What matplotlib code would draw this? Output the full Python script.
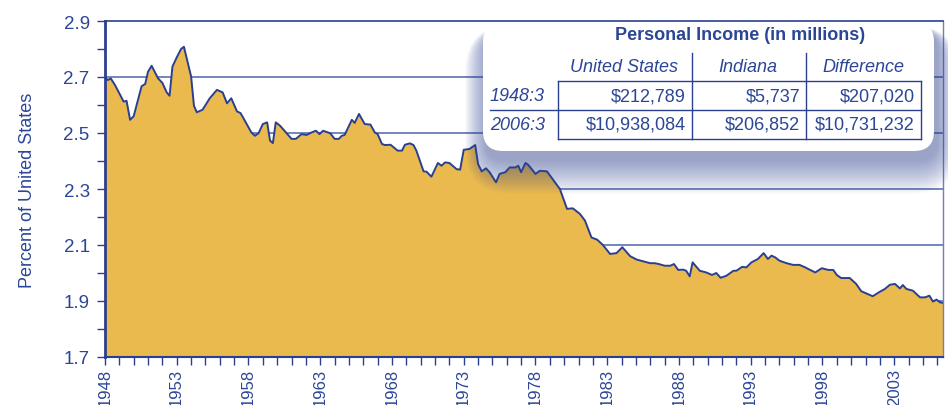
from matplotlib import pyplot as plt
from matplotlib.patches import FancyBboxPatch
from matplotlib.ticker import MultipleLocator
import numpy as np

plt.rcParams['font.family'] = ['Liberation Sans', 'DejaVu Sans']

# Indiana personal income as percent of United States
years = [1948.0, 1948.2, 1948.4, 1948.7, 1949.3, 1949.5, 1949.75, 1950.0,
         1950.55, 1950.8, 1951.0, 1951.25, 1951.7, 1952.0, 1952.3, 1952.5,
         1952.7, 1953.0, 1953.3, 1953.5, 1954.0, 1954.2, 1954.4, 1954.8,
         1955.3, 1955.8, 1956.2, 1956.5, 1956.8, 1957.2, 1957.45, 1958.2,
         1958.45, 1958.7, 1959.0, 1959.3, 1959.5, 1959.7, 1959.9, 1960.2,
         1961.0, 1961.3, 1961.7, 1962.05, 1962.4, 1962.7, 1962.95, 1963.2,
         1963.7, 1964.0, 1964.3, 1964.5, 1964.7, 1965.2, 1965.4, 1965.7,
         1966.1, 1966.5, 1966.8, 1967.0, 1967.3, 1967.5, 1967.9, 1968.4,
         1968.7, 1968.9, 1969.25, 1969.5, 1969.7, 1970.2, 1970.4, 1970.75,
         1971.2, 1971.45, 1971.7, 1972.0, 1972.5, 1972.75, 1973.0, 1973.4,
         1973.8, 1974.0, 1974.25, 1974.55, 1974.8, 1975.25, 1975.5, 1975.9,
         1976.2, 1976.6, 1976.8, 1977.0, 1977.3, 1977.5, 1978.0, 1978.3,
         1978.8, 1979.1, 1979.7, 1980.2, 1980.6, 1981.1, 1981.45, 1981.9,
         1982.3, 1982.7, 1983.2, 1983.65, 1984.05, 1984.6, 1985.05, 1985.5,
         1986.0, 1986.3, 1986.6, 1987.0, 1987.4, 1987.65, 1987.95, 1988.3,
         1988.5, 1988.75, 1988.95, 1989.45, 1989.9, 1990.3, 1990.6, 1990.9,
         1991.3, 1991.8, 1992.0, 1992.4, 1992.7, 1993.05, 1993.5, 1993.9,
         1994.2, 1994.45, 1994.7, 1995.0, 1995.5, 1995.95, 1996.4, 1996.8,
         1997.1, 1997.5, 1997.95, 1998.4, 1998.75, 1999.0, 1999.3, 1999.9,
         2000.35, 2000.7, 2001.05, 2001.5, 2002.0, 2002.35, 2002.7, 2003.05,
         2003.4, 2003.6, 2003.85, 2004.3, 2004.8, 2005.15, 2005.45, 2005.7,
         2005.95, 2006.2, 2006.4]
percent = [2.700, 2.689, 2.695, 2.671, 2.612, 2.615, 2.547, 2.560,
           2.667, 2.675, 2.719, 2.740, 2.695, 2.679, 2.645, 2.633,
           2.737, 2.770, 2.800, 2.808, 2.702, 2.597, 2.574, 2.583,
           2.624, 2.654, 2.645, 2.606, 2.624, 2.577, 2.571, 2.502,
           2.490, 2.499, 2.532, 2.538, 2.473, 2.464, 2.538, 2.526,
           2.479, 2.479, 2.496, 2.493, 2.502, 2.508, 2.496, 2.508,
           2.499, 2.479, 2.479, 2.490, 2.493, 2.547, 2.536, 2.568,
           2.532, 2.530, 2.502, 2.496, 2.461, 2.457, 2.458, 2.437,
           2.437, 2.458, 2.463, 2.457, 2.437, 2.363, 2.362, 2.344,
           2.393, 2.383, 2.395, 2.393, 2.371, 2.369, 2.440, 2.443,
           2.457, 2.389, 2.363, 2.374, 2.360, 2.324, 2.354, 2.360,
           2.377, 2.377, 2.383, 2.360, 2.393, 2.386, 2.354, 2.365,
           2.363, 2.342, 2.300, 2.229, 2.231, 2.211, 2.187, 2.127,
           2.119, 2.100, 2.068, 2.071, 2.092, 2.060, 2.048, 2.042,
           2.035, 2.035, 2.032, 2.026, 2.026, 2.032, 2.011, 2.012,
           2.008, 1.988, 2.038, 2.008, 2.002, 1.993, 2.000, 1.983,
           1.990, 2.008, 2.008, 2.022, 2.020, 2.038, 2.050, 2.071,
           2.050, 2.062, 2.056, 2.044, 2.035, 2.029, 2.029, 2.020,
           2.012, 2.002, 2.017, 2.011, 2.011, 1.993, 1.982, 1.982,
           1.961, 1.935, 1.927, 1.917, 1.933, 1.943, 1.958, 1.961,
           1.945, 1.957, 1.943, 1.937, 1.913, 1.913, 1.919, 1.898,
           1.905, 1.895, 1.893]

year_ticks = list(range(1948, 2006, 5))
pct_ticks = [1.7, 1.9, 2.1, 2.3, 2.5, 2.7, 2.9]

table_title = 'Personal Income (in millions)'
table_cols = ['United States', 'Indiana', 'Difference']
table_rows = ['1948:3', '2006:3']
table_values = [['$212,789', '$5,737', '$207,020'],
                ['$10,938,084', '$206,852', '$10,731,232']]

navy = '#2a3f8f'
text_c = '#2c4696'
fill_c = '#ebba4e'
grid_c = '#4d65aa'

fig = plt.figure(figsize=(9.48, 4.06), dpi=100)
ax = fig.add_axes([105 / 948, 1 - 358 / 406, 838 / 948, 336 / 406])

ax.fill_between(years, percent, 1.7, color=fill_c, lw=0, zorder=2)
ax.plot(years, percent, color=navy, lw=1.4, zorder=3)

ax.set_xlim(1948, 2006.4)
ax.set_ylim(1.7, 2.9)
ax.set_xticks(year_ticks)
ax.set_xticklabels([str(y) for y in year_ticks], rotation=90,
                   fontsize=12, color=text_c)
ax.xaxis.set_minor_locator(MultipleLocator(1))
ax.set_yticks(pct_ticks)
ax.set_yticklabels(['%.1f' % v for v in pct_ticks], fontsize=13.5,
                   color=text_c)
ax.yaxis.set_minor_locator(MultipleLocator(0.1))
ax.tick_params(axis='both', which='both', direction='out', length=6,
               width=1, color=navy, pad=2)
ax.tick_params(axis='y', which='major', pad=5)

for v in pct_ticks[1:-1]:
    ax.axhline(v, color=grid_c, lw=1.1, zorder=1)

for side in ['top', 'left', 'bottom']:
    ax.spines[side].set_color(navy)
ax.spines['left'].set_linewidth(2)
ax.spines['bottom'].set_linewidth(1.5)
ax.spines['top'].set_linewidth(1.2)
ax.spines['right'].set_color('#6d80bb')
ax.spines['right'].set_linewidth(1)
for s in ax.spines.values():
    s.set_zorder(4)

ax.set_ylabel('Percent of United States', fontsize=13, color=text_c,
              labelpad=20)

# overlay in pixel units for the table panel
ov = fig.add_axes([0, 0, 1, 1], facecolor='none')
ov.set_xlim(0, 948)
ov.set_ylim(406, 0)
ov.set_axis_off()

bx0, by0, bx1, by1 = 483, 23, 934, 152
for i in range(26, 0, -1):
    sh = FancyBboxPatch((bx0 - i * 0.8 + 3, by0 + 9 - i * 0.2),
                        bx1 - bx0 + i * 1.6, by1 - by0 + i * 1.5,
                        boxstyle='round,pad=0,rounding_size=%d' % (20 + i),
                        fc='#3a4f9e', ec='none', alpha=0.022, zorder=5)
    ov.add_patch(sh)
box = FancyBboxPatch((bx0, by0), bx1 - bx0, by1 - by0,
                     boxstyle='round,pad=0,rounding_size=20',
                     fc='white', ec='none', zorder=6)
ov.add_patch(box)

ov.text(740, 35, table_title, ha='center', va='center', fontsize=13,
        fontweight='bold', color=text_c, zorder=7)

col_x = [558, 692, 806, 921]
col_centers = [624, 748, 863]
row_y = [82, 111, 140]
for c, name in zip(col_centers, table_cols):
    ov.text(c, 67, name, ha='center', va='center', fontsize=13,
            style='italic', color=text_c, zorder=7)
for r, name in enumerate(table_rows):
    yc = (row_y[r] + row_y[r + 1]) / 2
    ov.text(490, yc, name, ha='left', va='center', fontsize=13,
            style='italic', color=text_c, zorder=7)
    for c in range(3):
        ov.text(col_x[c + 1] - 6, yc, table_values[r][c], ha='right',
                va='center', fontsize=13, color=text_c, zorder=7)

lk = dict(color=navy, lw=1, zorder=7)
ov.plot([col_x[0], col_x[-1]], [row_y[0], row_y[0]], **lk)
ov.plot([490, col_x[-1]], [row_y[1], row_y[1]], **lk)
ov.plot([col_x[0], col_x[-1]], [row_y[2], row_y[2]], **lk)
ov.plot([col_x[0], col_x[0]], [row_y[0], row_y[2]], **lk)
ov.plot([col_x[3], col_x[3]], [row_y[0], row_y[2]], **lk)
ov.plot([col_x[1], col_x[1]], [54, row_y[2]], **lk)
ov.plot([col_x[2], col_x[2]], [54, row_y[2]], **lk)

fig.savefig('out.png', dpi=100)
